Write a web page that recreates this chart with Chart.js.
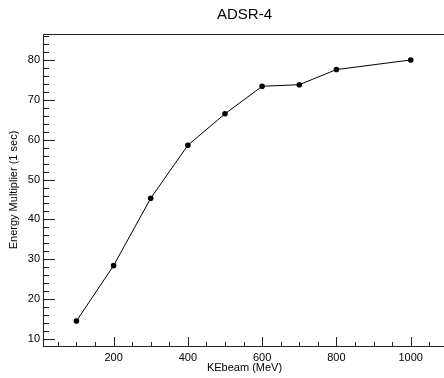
<!DOCTYPE html>
<html>
<head>
<meta charset="utf-8">
<script src="https://cdn.jsdelivr.net/npm/chart.js@4"></script>
<style>
  html, body { margin: 0; padding: 0; background: #fff; overflow: hidden; }
  #wrap { width: 450px; height: 378px; }
</style>
</head>
<body>
<div id="wrap"><canvas id="chart"></canvas></div>
<script>
// data
const beamEnergy = [100, 200, 300, 400, 500, 600, 700, 800, 1000];
const multiplier = [14.5, 28.4, 45.3, 58.6, 66.5, 73.4, 73.8, 77.6, 80.0];
const xTickLabels = [200, 400, 600, 800, 1000];
const yTickLabels = [10, 20, 30, 40, 50, 60, 70, 80];

const font = 'Arial, "Liberation Sans", sans-serif';

// ROOT style frame with ticks pointing inwards
const frameTicks = {
  id: 'frameTicks',
  afterDatasetsDraw(chart) {
    const {ctx, chartArea: a, scales: {x, y}} = chart;
    ctx.save();
    ctx.strokeStyle = '#222';
    ctx.lineWidth = 1;
    ctx.strokeRect(Math.round(a.left) + 0.5, Math.round(a.top) + 0.5,
                   Math.round(a.right - a.left) + 4, Math.round(a.bottom - a.top));
    ctx.beginPath();
    for (let v = 50; v <= x.max; v += 50) {
      const px = Math.round(x.getPixelForValue(v)) + 0.5;
      const len = v % 200 === 0 ? 9 : 4;
      ctx.moveTo(px, a.bottom);
      ctx.lineTo(px, a.bottom - len);
    }
    for (let v = 10; v <= y.max; v += 2) {
      const py = Math.round(y.getPixelForValue(v)) + 0.5;
      const len = v % 10 === 0 ? 12 : 6;
      ctx.moveTo(a.left, py);
      ctx.lineTo(a.left + len, py);
    }
    ctx.stroke();
    ctx.restore();
  }
};

new Chart(document.getElementById('chart'), {
  type: 'line',
  data: {
    datasets: [{
      data: beamEnergy.map((e, i) => ({x: e, y: multiplier[i]})),
      borderColor: '#000',
      borderWidth: 1,
      pointBackgroundColor: '#000',
      pointBorderColor: '#000',
      pointRadius: 2.8,
      pointBorderWidth: 0,
      tension: 0
    }]
  },
  options: {
    responsive: true,
    maintainAspectRatio: false,
    animation: false,
    layout: { padding: 0 },
    plugins: {
      legend: { display: false },
      tooltip: { enabled: false },
      title: {
        display: true,
        text: 'ADSR-4',
        fullSize: false,
        color: '#000',
        font: { family: font, size: 15, weight: 'normal' },
        padding: { top: 6, bottom: 10 }
      }
    },
    scales: {
      x: {
        type: 'linear',
        min: 10,
        max: 1095,
        afterFit: s => { s.height = 32; },
        afterBuildTicks: s => { s.ticks = xTickLabels.map(v => ({value: v})); },
        grid: { display: false, drawTicks: false },
        border: { display: false },
        ticks: {
          color: '#000', padding: 5, maxRotation: 0,
          font: { family: font, size: 11 },
          callback: v => String(v)
        },
        title: {
          display: true,
          text: 'KEbeam (MeV)',
          color: '#000',
          font: { family: font, size: 11 },
          padding: { top: 0, bottom: 3 }
        }
      },
      y: {
        min: 8.24,
        max: 86.52,
        afterFit: s => { s.width = 43; },
        afterBuildTicks: s => { s.ticks = yTickLabels.map(v => ({value: v})); },
        grid: { display: false, drawTicks: false },
        border: { display: false },
        ticks: {
          color: '#000', padding: 3,
          font: { family: font, size: 11 },
          callback: v => String(v)
        },
        title: {
          display: true,
          text: 'Energy Multiplier (1 sec)',
          color: '#000',
          font: { family: font, size: 11 },
          padding: { top: 7, bottom: 0 }
        }
      }
    }
  },
  plugins: [frameTicks]
});
</script>
</body>
</html>
